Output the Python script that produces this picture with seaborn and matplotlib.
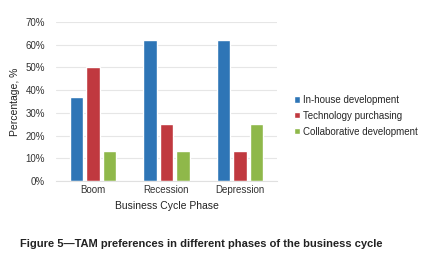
import pandas as pd
import matplotlib.pyplot as plt
import seaborn as sns

# data
phases = ["Boom", "Recession", "Depression"]
series = ["In-house development", "Technology purchasing", "Collaborative development"]
inhouse = [37, 62, 62]
purchasing = [50, 25, 13]
collab = [13, 13, 25]
yticks = [0, 10, 20, 30, 40, 50, 60, 70]

colors = ["#2E75B6", "#C0393F", "#8FB84A"]

df = pd.DataFrame({
    "phase": phases * 3,
    "series": [series[0]] * 3 + [series[1]] * 3 + [series[2]] * 3,
    "value": inhouse + purchasing + collab,
})

sns.set_style("white")
plt.rcParams["font.family"] = ["Liberation Sans", "DejaVu Sans"]

fig = plt.figure(figsize=(4.29, 2.65), dpi=100)
ax = fig.add_axes([0.1305, 0.317, 0.515, 0.6])

sns.barplot(data=df, x="phase", y="value", hue="series", palette=colors,
            saturation=1, width=0.67, gap=0.18, ax=ax, legend=True)

ax.set_ylim(0, 70)
ax.set_yticks(yticks)
ax.set_yticklabels([f"{t}%" for t in yticks], fontsize=7, color="#333333")
ax.tick_params(axis="x", labelsize=7, colors="#333333", length=0, pad=3)
ax.tick_params(axis="y", length=0, pad=8)
ax.yaxis.grid(True, color="#E6E6E6", linewidth=0.8)
ax.set_axisbelow(True)
for s in ["top", "right", "left"]:
    ax.spines[s].set_visible(False)
ax.spines["bottom"].set_color("#E0E0E0")
ax.set_xlabel("Business Cycle Phase", fontsize=7.5, color="#222222", labelpad=4)
ax.set_ylabel("Percentage, %", fontsize=7.5, color="#222222", labelpad=4)

ax.legend(loc="center left", bbox_to_anchor=(1.06, 0.41), frameon=False,
          fontsize=7, handlelength=0.6, handleheight=0.6, handletextpad=0.3,
          labelspacing=0.6, borderaxespad=0)

fig.text(0.047, 0.078, "Figure 5\u2014TAM preferences in different phases of the business cycle",
         fontsize=8, fontweight="bold", color="#222222", va="center")

fig.savefig("out.png", dpi=100)
